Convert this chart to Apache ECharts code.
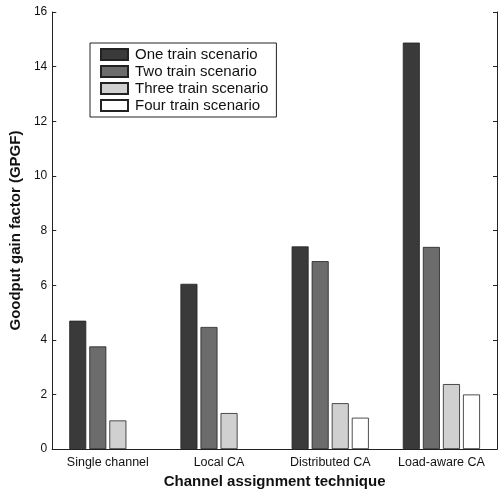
<!DOCTYPE html>
<html>
<head>
<meta charset="UTF-8">
<script src="https://cdn.jsdelivr.net/npm/echarts@6/dist/echarts.min.js"></script>
<style>
    html, body { margin: 0; padding: 0; background: #fff; }
    #chart { width: 502px; height: 494px; }
</style>
</head>
<body>
<div id="chart"></div>
<script>
    // 데이터
    const categories = ['Single channel', 'Local CA', 'Distributed CA', 'Load-aware CA'];
    const seriesNames = ['One train scenario', 'Two train scenario', 'Three train scenario', 'Four train scenario'];
    const oneTrain = [4.7, 6.05, 7.42, 14.88];
    const twoTrain = [3.76, 4.47, 6.88, 7.4];
    const threeTrain = [1.05, 1.32, 1.68, 2.38];
    const fourTrain = [null, null, 1.15, 2.0];  // 앞의 두 그룹은 막대 없음
    const yTicks = [0, 2, 4, 6, 8, 10, 12, 14, 16];

    const colors = ['#3a3a3a', '#6c6c6c', '#d0d0d0', '#ffffff'];
    const allData = [oneTrain, twoTrain, threeTrain, fourTrain];

    const font = 'Arial, "Liberation Sans", sans-serif';

    const chart = echarts.init(document.getElementById('chart'));

    const option = {
        animation: false,
        backgroundColor: '#fff',
        grid: { left: 49, right: 5, top: 12, bottom: 41 },
        legend: {
            orient: 'vertical',
            left: 90,
            top: 43,
            icon: 'rect',
            itemWidth: 27,
            itemHeight: 11,
            itemGap: 2,
            padding: [4, 8, 4, 10],
            borderColor: '#222',
            borderWidth: 1,
            backgroundColor: '#fff',
            textStyle: { fontFamily: font, fontSize: 15, color: '#111', padding: [0, 0, 0, 2] },
            data: seriesNames
        },
        xAxis: [
            {
                type: 'category',
                data: categories,
                axisLine: { lineStyle: { color: '#222' } },
                axisTick: { alignWithLabel: true, inside: true, length: 4, lineStyle: { color: '#222' } },
                axisLabel: { interval: 0, fontFamily: font, fontSize: 12.5, color: '#111', margin: 7 },
                name: 'Channel assignment technique',
                nameLocation: 'middle',
                nameGap: 23,
                nameTextStyle: { fontFamily: font, fontSize: 15, fontWeight: 'bold', color: '#111' }
            },
            {
                type: 'category',
                data: categories,
                position: 'top',
                axisLine: { lineStyle: { color: '#222' } },
                axisTick: { alignWithLabel: true, inside: true, length: 4, lineStyle: { color: '#222' } },
                axisLabel: { show: false }
            }
        ],
        yAxis: [
            {
                type: 'value',
                min: 0,
                max: 16,
                interval: 2,
                splitLine: { show: false },
                axisLine: { show: true, lineStyle: { color: '#222' } },
                axisTick: { show: true, inside: true, length: 4, lineStyle: { color: '#222' } },
                axisLabel: {
                    fontFamily: font, fontSize: 12, color: '#111', margin: 5,
                    formatter: v => yTicks.includes(v) ? String(v) : ''
                },
                name: 'Goodput gain factor (GPGF)',
                nameLocation: 'middle',
                nameGap: 21,
                nameTextStyle: { fontFamily: font, fontSize: 15, fontWeight: 'bold', color: '#111' }
            },
            {
                type: 'value',
                min: 0,
                max: 16,
                interval: 2,
                position: 'right',
                splitLine: { show: false },
                axisLine: { show: true, lineStyle: { color: '#222' } },
                axisTick: { show: true, inside: true, length: 4, lineStyle: { color: '#222' } },
                axisLabel: { show: false }
            }
        ],
        series: seriesNames.map((name, i) => ({
            name: name,
            type: 'bar',
            data: allData[i],
            barWidth: 17,
            barGap: '18%',
            itemStyle: { color: colors[i], borderColor: '#222', borderWidth: 0.8 }
        }))
    };

    chart.setOption(option);
</script>
</body>
</html>
